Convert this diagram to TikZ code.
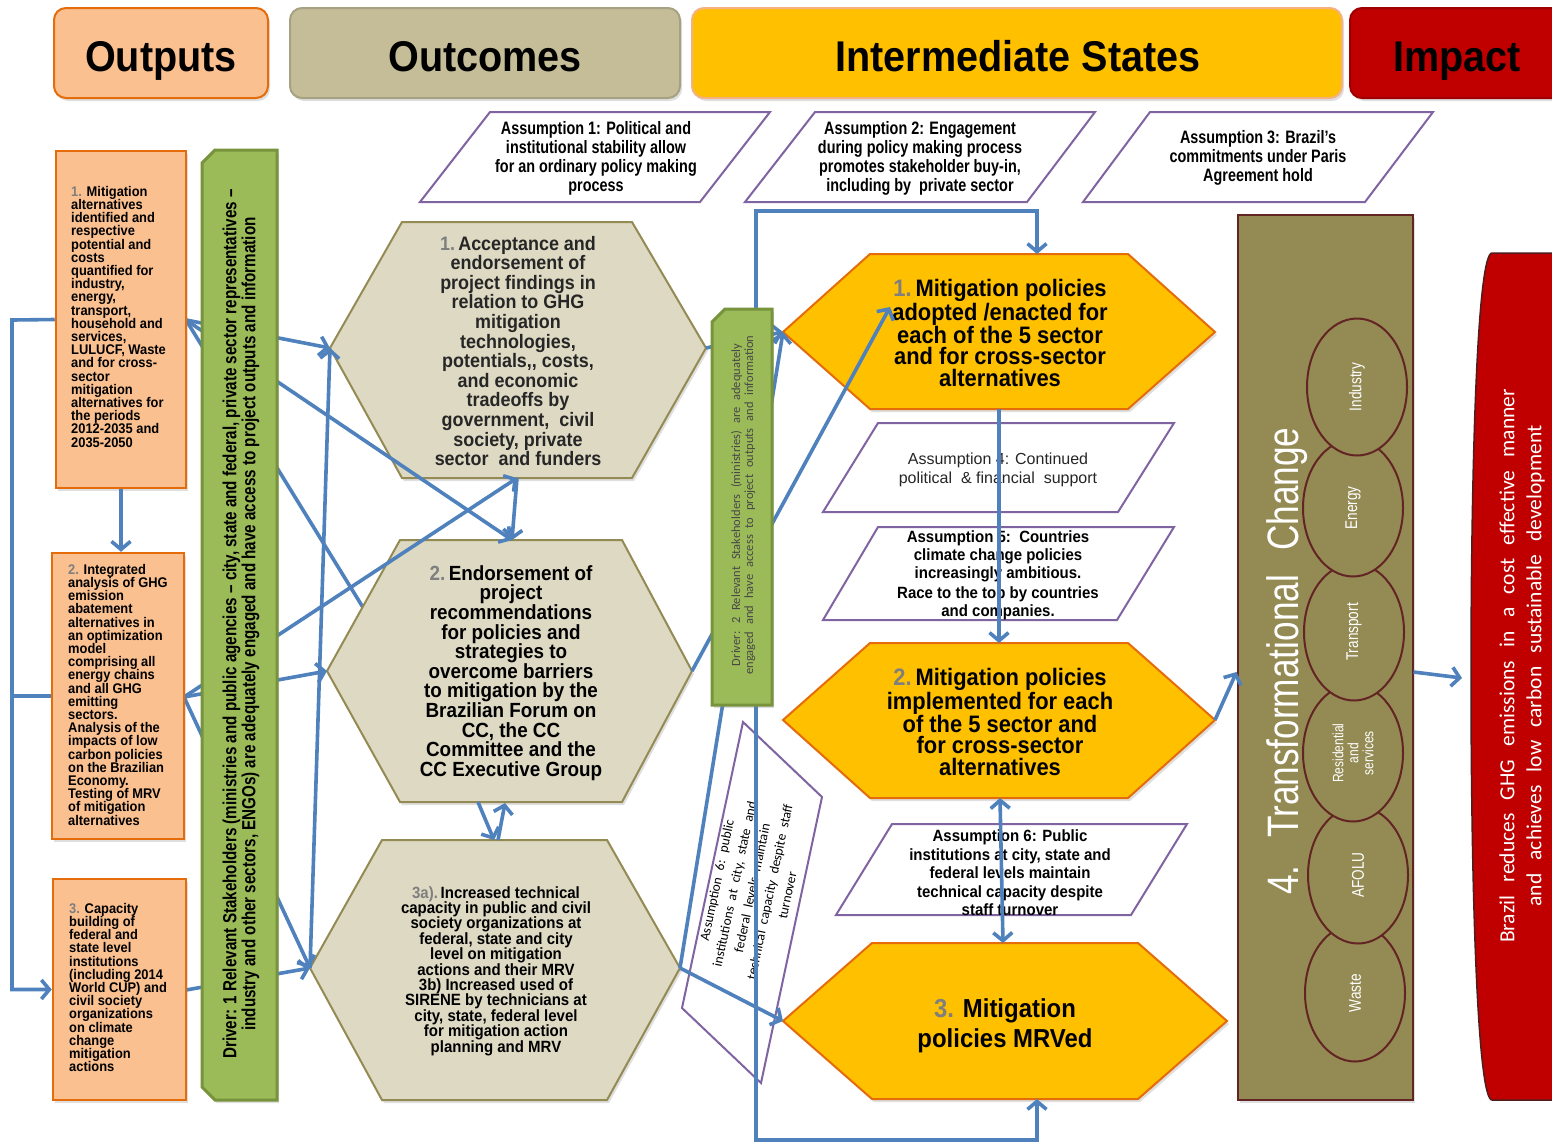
\documentclass[tikz,border=0pt]{standalone}
\usepackage{fontspec}
\setmainfont{Liberation Sans}
\newfontfamily\robo[FakeStretch=0.92]{Liberation Sans}
\newfontfamily\narrowsans[FakeStretch=0.8]{Liberation Sans}
\newfontfamily\carlito{Carlito}
\usetikzlibrary{arrows.meta,shadows,shapes.geometric}
\newcommand\widegaps[1]{\spaceskip=#1\relax}

\definecolor{linkblue}{HTML}{4F81BD}
\definecolor{peach}{HTML}{FAC090}
\definecolor{rust}{HTML}{E46C0A}
\definecolor{khaki}{HTML}{C4BD97}
\definecolor{khakiedge}{HTML}{A5A182}
\definecolor{amber}{HTML}{FFC000}
\definecolor{amberedge}{HTML}{F4B183}
\definecolor{crimson}{HTML}{C00000}
\definecolor{crimsonedge}{HTML}{9E0000}
\definecolor{stone}{HTML}{DDD9C3}
\definecolor{stoneedge}{HTML}{948A54}
\definecolor{leaf}{HTML}{9BBB59}
\definecolor{leafedge}{HTML}{77933C}
\definecolor{olivebox}{HTML}{948A54}
\definecolor{wine}{HTML}{632523}
\definecolor{violet}{HTML}{8064A2}
\definecolor{numgrey}{HTML}{7F7F7F}
\definecolor{ink}{HTML}{262626}

\begin{document}
\begin{tikzpicture}[x=1pt,y=-1pt,
  softshadow/.style={drop shadow={shadow xshift=2pt,shadow yshift=-3pt,opacity=0.25}},
  header/.style={rectangle,rounded corners=12pt,line width=2pt,softshadow,minimum height=90},
  headtext/.style={inner sep=0pt,font=\robo\fontsize{43}{43}\selectfont\bfseries,text=black,
    text height=31pt,text depth=9pt},
  outbox/.style={rectangle,fill=peach,draw=rust,line width=2.5pt,softshadow},
  outtext/.style={anchor=north west,inner sep=0pt,align=left,
    font=\robo\fontsize{14}{13.2}\selectfont\bfseries},
  stonehex/.style={fill=stone,draw=stoneedge,line width=2pt,softshadow},
  amberhex/.style={fill=amber,draw=rust,line width=2pt,softshadow},
  hextext/.style={inner sep=0pt,align=center},
  assum/.style={draw=violet,line width=2pt,fill=white},
  assumtext/.style={inner sep=0pt,align=center,text=black},
  driver/.style={fill=leaf,draw=leafedge,line width=3pt,softshadow},
  link/.style={draw=linkblue,line width=3.6pt,-{Straight Barb[length=8pt,width=19pt]}},
  twolink/.style={draw=linkblue,line width=3.6pt,
    {Straight Barb[length=8pt,width=19pt]}-{Straight Barb[length=8pt,width=19pt]}},
  plainlink/.style={draw=linkblue,line width=3.6pt},
  sector/.style={ellipse,fill=olivebox,draw=wine,line width=2pt,
    minimum width=137,minimum height=100,inner sep=0pt,rotate=90,
    text=white,font=\narrowsans\fontsize{17}{17}\selectfont,align=center}
]
\useasboundingbox (0,0) rectangle (1552,1144);
\clip (0,0) rectangle (1552,1144);
\fill[white] (0,0) rectangle (1552,1144);

% ---------- column headers ----------
\node[header,fill=peach,draw=rust,minimum width=214] (hdrOut) at (161,53) {};
\node[headtext] (hdrOutT) at (161,60) {Outputs};
\node[header,fill=khaki,draw=khakiedge,minimum width=390] (hdrOutc) at (485,53) {};
\node[headtext] (hdrOutcT) at (485,60) {Outcomes};
\node[header,fill=amber,draw=amberedge,minimum width=650] (hdrInt) at (1017,53) {};
\node[headtext] (hdrIntT) at (1018,60) {Intermediate States};
\node[header,fill=crimson,draw=crimsonedge,minimum width=220] (hdrImp) at (1460,53) {};
\node[headtext] (hdrImpT) at (1457,60) {Impact};

% ---------- assumptions along the top ----------
\draw[assum] (420,202) -- (700,202) -- (770,112) -- (490,112) -- cycle;
\node[assumtext,font=\narrowsans\fontsize{18}{19}\selectfont\bfseries] (as1) at (596,158)
  {Assumption 1: Political and\\institutional stability allow\\for an ordinary policy making\\process};
\draw[assum] (745,202) -- (1027,202) -- (1095,112) -- (815,112) -- cycle;
\node[assumtext,font=\narrowsans\fontsize{18}{19}\selectfont\bfseries] (as2) at (920,158)
  {Assumption 2: Engagement\\during policy making process\\promotes stakeholder buy-in,\\including by~~private sector};
\draw[assum] (1083,202) -- (1365,202) -- (1433,112) -- (1150,112) -- cycle;
\node[assumtext,font=\narrowsans\fontsize{18}{19}\selectfont\bfseries] (as3) at (1258,158)
  {Assumption 3: Brazil’s\\commitments under Paris\\Agreement hold};

% ---------- tilted assumption 6 ----------
\draw[assum,fill=none] (743,722) -- (822,797) -- (761,1083) -- (682,1008) -- cycle;
\node[assumtext,rotate=78,font=\carlito\fontsize{13.5}{18}\selectfont] (as6t) at (752,888)
  {\widegaps{0.5em}Assumption 6: public\\\widegaps{0.5em}institutions at city, state and\\\widegaps{0.5em}federal levels maintain\\\widegaps{0.5em}technical capacity despite staff\\turnover};

% ---------- assumptions between intermediate states ----------
\draw[assum] (823,512) -- (1118,512) -- (1174,423) -- (878,423) -- cycle;
\node[assumtext,text=ink,font=\fontsize{16}{19}\selectfont] (as4) at (998,470)
  {Assumption 4: Continued\\political~~\& financial~~support};
\draw[assum] (823,620) -- (1117,620) -- (1174,527) -- (878,527) -- cycle;
\node[assumtext,font=\robo\fontsize{16.3}{18}\selectfont\bfseries] (as5) at (998,575)
  {Assumption 5:~~Countries\\climate change policies\\increasingly ambitious.\\[2pt]Race to the top by countries\\and companies.};
\draw[assum] (836,915) -- (1131,915) -- (1187,824) -- (892,824) -- cycle;
\node[assumtext,font=\robo\fontsize{16.3}{18.5}\selectfont\bfseries] (as6) at (1010,873)
  {Assumption 6: Public\\institutions at city, state and\\federal levels maintain\\technical capacity despite\\staff turnover};

% ---------- outcome hexagons ----------
\coordinate (h1w) at (330,348);  \coordinate (h1e) at (706,348);
\coordinate (h1n) at (517,222);  \coordinate (h1s) at (517,478);
\coordinate (h2w) at (327,671);  \coordinate (h2e) at (692,671);
\coordinate (h2n) at (512,540);  \coordinate (h2c) at (420,700);
\coordinate (h2sa) at (478,802); \coordinate (h2sb) at (505,803);
\coordinate (h3w) at (310,968);  \coordinate (h3e) at (680,968);
\coordinate (h3na) at (494,840); \coordinate (h3nb) at (498,840);

% hidden feed from output 1 into outcome 2
\coordinate (o1r) at (186,320);
\draw[plainlink] (o1r) -- (h2c);

\draw[stonehex] (h1w) -- (402,222) -- (632,222) -- (h1e) -- (632,478) -- (402,478) -- cycle;
\node[hextext,text=ink,font=\robo\fontsize{19.5}{19.6}\selectfont\bfseries] (h1t) at (518,351)
  {\textcolor{numgrey}{1.}\,Acceptance and\\endorsement of\\project findings in\\relation to GHG\\mitigation\\technologies,\\potentials,, costs,\\and economic\\tradeoffs by\\government,~~civil\\society, private\\sector~~and funders};
\draw[stonehex] (h2w) -- (400,540) -- (622,540) -- (h2e) -- (622,802) -- (400,802) -- cycle;
\node[hextext,font=\robo\fontsize{20.5}{19.6}\selectfont\bfseries] (h2t) at (511,673)
  {\textcolor{numgrey}{2.}\,Endorsement of\\project\\recommendations\\for policies and\\strategies to\\overcome barriers\\to mitigation by the\\Brazilian Forum on\\CC, the CC\\Committee and the\\CC Executive Group};
\draw[stonehex] (h3w) -- (382,840) -- (607,840) -- (h3e) -- (607,1100) -- (382,1100) -- cycle;
\node[hextext,font=\robo\fontsize{16.3}{15.4}\selectfont\bfseries] (h3t) at (496,971)
  {\textcolor{numgrey}{3a).}\,Increased technical\\capacity in public and civil\\society organizations at\\federal, state and city\\level on mitigation\\actions and their MRV\\3b) Increased used of\\SIRENE by technicians at\\city, state, federal level\\for mitigation action\\planning and MRV};

% ---------- intermediate state hexagons ----------
\coordinate (i1w) at (783,332);  \coordinate (i1e) at (1215,332);
\coordinate (i1n) at (1037,254); \coordinate (i1s) at (999,409);
\coordinate (i1in) at (890,307);
\coordinate (i2w) at (783,720);  \coordinate (i2e) at (1215,720);
\coordinate (i2n) at (999,643);  \coordinate (i2s) at (1000,798);
\coordinate (i3w) at (783,1021); \coordinate (i3e) at (1227,1021);
\coordinate (i3n) at (1003,943); \coordinate (i3s) at (1037,1099);

\draw[amberhex] (i1w) -- (870,254) -- (1128,254) -- (i1e) -- (1128,409) -- (870,409) -- cycle;
\node[hextext,font=\robo\fontsize{23.8}{21.5}\selectfont\bfseries] (i1t) at (1000,333)
  {\textcolor{numgrey}{1.}\,Mitigation policies\\adopted /enacted for\\each of the 5 sector\\and for cross-sector\\alternatives};
\draw[amberhex] (i2w) -- (870,643) -- (1128,643) -- (i2e) -- (1128,798) -- (870,798) -- cycle;
\node[hextext,font=\robo\fontsize{23.8}{21.5}\selectfont\bfseries] (i2t) at (1000,722)
  {\textcolor{numgrey}{2.}\,Mitigation policies\\implemented for each\\of the 5 sector and\\for cross-sector\\alternatives};
\draw[amberhex] (i3w) -- (872,943) -- (1138,943) -- (i3e) -- (1138,1099) -- (872,1099) -- cycle;
\node[hextext,font=\robo\fontsize{26}{30}\selectfont\bfseries] (i3t) at (1005,1026)
  {\textcolor{numgrey}{3.} Mitigation\\policies MRVed};

% ---------- transformational change ----------
\node[rectangle,fill=olivebox,draw=wine,line width=2pt,softshadow,
  minimum width=175,minimum height=885] (tc) at (1325,657.5) {};
\node[sector] (sWaste) at (1355,993) {Waste};
\node[sector] (sAfolu) at (1358,875) {AFOLU};
\node[sector,font=\narrowsans\fontsize{15}{15}\selectfont] (sRes) at (1353,753) {Residential\\and\\services};
\node[sector] (sTrans) at (1354,632) {Transport};
\node[sector] (sEnergy) at (1353,508) {Energy};
\node[sector] (sInd) at (1357,387) {Industry};
\node[rotate=90,text=white,font=\narrowsans\fontsize{44}{44}\selectfont] (tct) at (1287,661)
  {\widegaps{0.55em}4. Transformational Change};

% ---------- impact ----------
\draw[fill=crimson,draw=wine!80!black,line width=1.5pt]
  (1570,253) -- (1492,253) .. controls (1477,253) and (1471,470) .. (1471,676)
  .. controls (1471,880) and (1477,1100) .. (1492,1100) -- (1570,1100) -- cycle;
\node[rotate=90,text=white,font=\carlito\fontsize{21.5}{27}\selectfont,align=center] (impt) at (1522,666)
  {\widegaps{0.62em}Brazil reduces GHG emissions in a cost effective manner\\\widegaps{0.62em}and achieves low carbon sustainable development};
\coordinate (impw) at (1462,678);

% ---------- connectors ----------
\coordinate (busTop) at (12,320);
\coordinate (o2r) at (184,697);
\coordinate (o3r) at (186,990);
\coordinate (loopTL) at (756,211);
\coordinate (loopBL) at (756,1140);

\draw[link] (o1r) -- (h1w);
\draw[link] (o1r) -- (h2n);
\draw[link] (o2r) -- (h1s);
\draw[link] (o2r) -- (h2w);
\draw[link] (o2r) -- (h3w);
\draw[link] (o3r) -- (h3w);
\draw[link] (h3w) -- (h1w);
\draw[link] (h1s) -- (h2n);
\draw[link] (h2sa) -- (h3na);
\draw[link] (h3nb) -- (h2sb);
\draw[link] (h1e) -- (i1w);
\draw[link] (h3e) -- (i1w);
\draw[link] (h2e) -- (i1in);
\draw[link] (h3e) -- (i3w);
\draw[twolink] (i3s) |- (loopBL) |- (loopTL -| i1n) -- (i1n);
\draw[link] (i1s) -- (i2n);
\draw[twolink] (i2s) -- (i3n);
\draw[link] (i2e) -- (tc.west |- 0,672);
\draw[link] (tc.east |- 0,672) -- (impw);

% ---------- outputs ----------
\node[outbox,minimum width=130,minimum height=337] (o1) at (121,319.5) {};
\node[outtext] (o1t) at (71,186)
  {\textcolor{numgrey}{1.} Mitigation\\alternatives\\identified and\\respective\\potential and\\costs\\quantified for\\industry,\\energy,\\transport,\\household and\\services,\\LULUCF, Waste\\and for cross-\\sector\\mitigation\\alternatives for\\the periods\\2012-2035 and\\2035-2050};
\node[outbox,minimum width=132,minimum height=286] (o2) at (118,696) {};
\node[outtext] (o2t) at (68,564)
  {\textcolor{numgrey}{2.} Integrated\\analysis of GHG\\emission\\abatement\\alternatives in\\an optimization\\model\\comprising all\\energy chains\\and all GHG\\emitting\\sectors.\\Analysis of the\\impacts of low\\carbon policies\\on the Brazilian\\Economy.\\Testing of MRV\\of mitigation\\alternatives};
\node[outbox,minimum width=133,minimum height=221] (o3) at (119.5,989.5) {};
\node[outtext] (o3t) at (69,903)
  {\textcolor{numgrey}{3.} Capacity\\building of\\federal and\\state level\\institutions\\(including 2014\\World CUP) and\\civil society\\organizations\\on climate\\change\\mitigation\\actions};

\draw[link] (o1.west) -- (busTop) |- (o3.west);
\draw[plainlink] (o2.west) -- (busTop |- o2.west);
\draw[link] (o1.south) -- (o1.south |- o2.north);

% ---------- drivers ----------
\draw[driver] (215,150) -- (277,150) -- (277,1100) -- (215,1100) -- (202,1087) -- (202,163) -- cycle;
\node[rotate=90,align=center,inner sep=0pt,
  font=\narrowsans\fontsize{19}{16.5}\selectfont\bfseries] (d1t) at (241,624)
  {Driver: 1 Relevant Stakeholders (ministries and public agencies – city, state and federal, private sector representatives –\\industry and other sectors, ENGOs) are adequately engaged and have access to project outputs and information};
\draw[driver] (725,309) -- (772,309) -- (772,705) -- (712,705) -- (712,322) -- cycle;
\node[rotate=90,align=center,inner sep=0pt,text=ink!85,
  font=\carlito\fontsize{12.5}{13}\selectfont] (d2t) at (743,505)
  {\widegaps{0.55em}Driver: 2 Relevant Stakeholders (ministries) are adequately\\\widegaps{0.55em}engaged and have access to project outputs and information};
\end{tikzpicture}
\end{document}
